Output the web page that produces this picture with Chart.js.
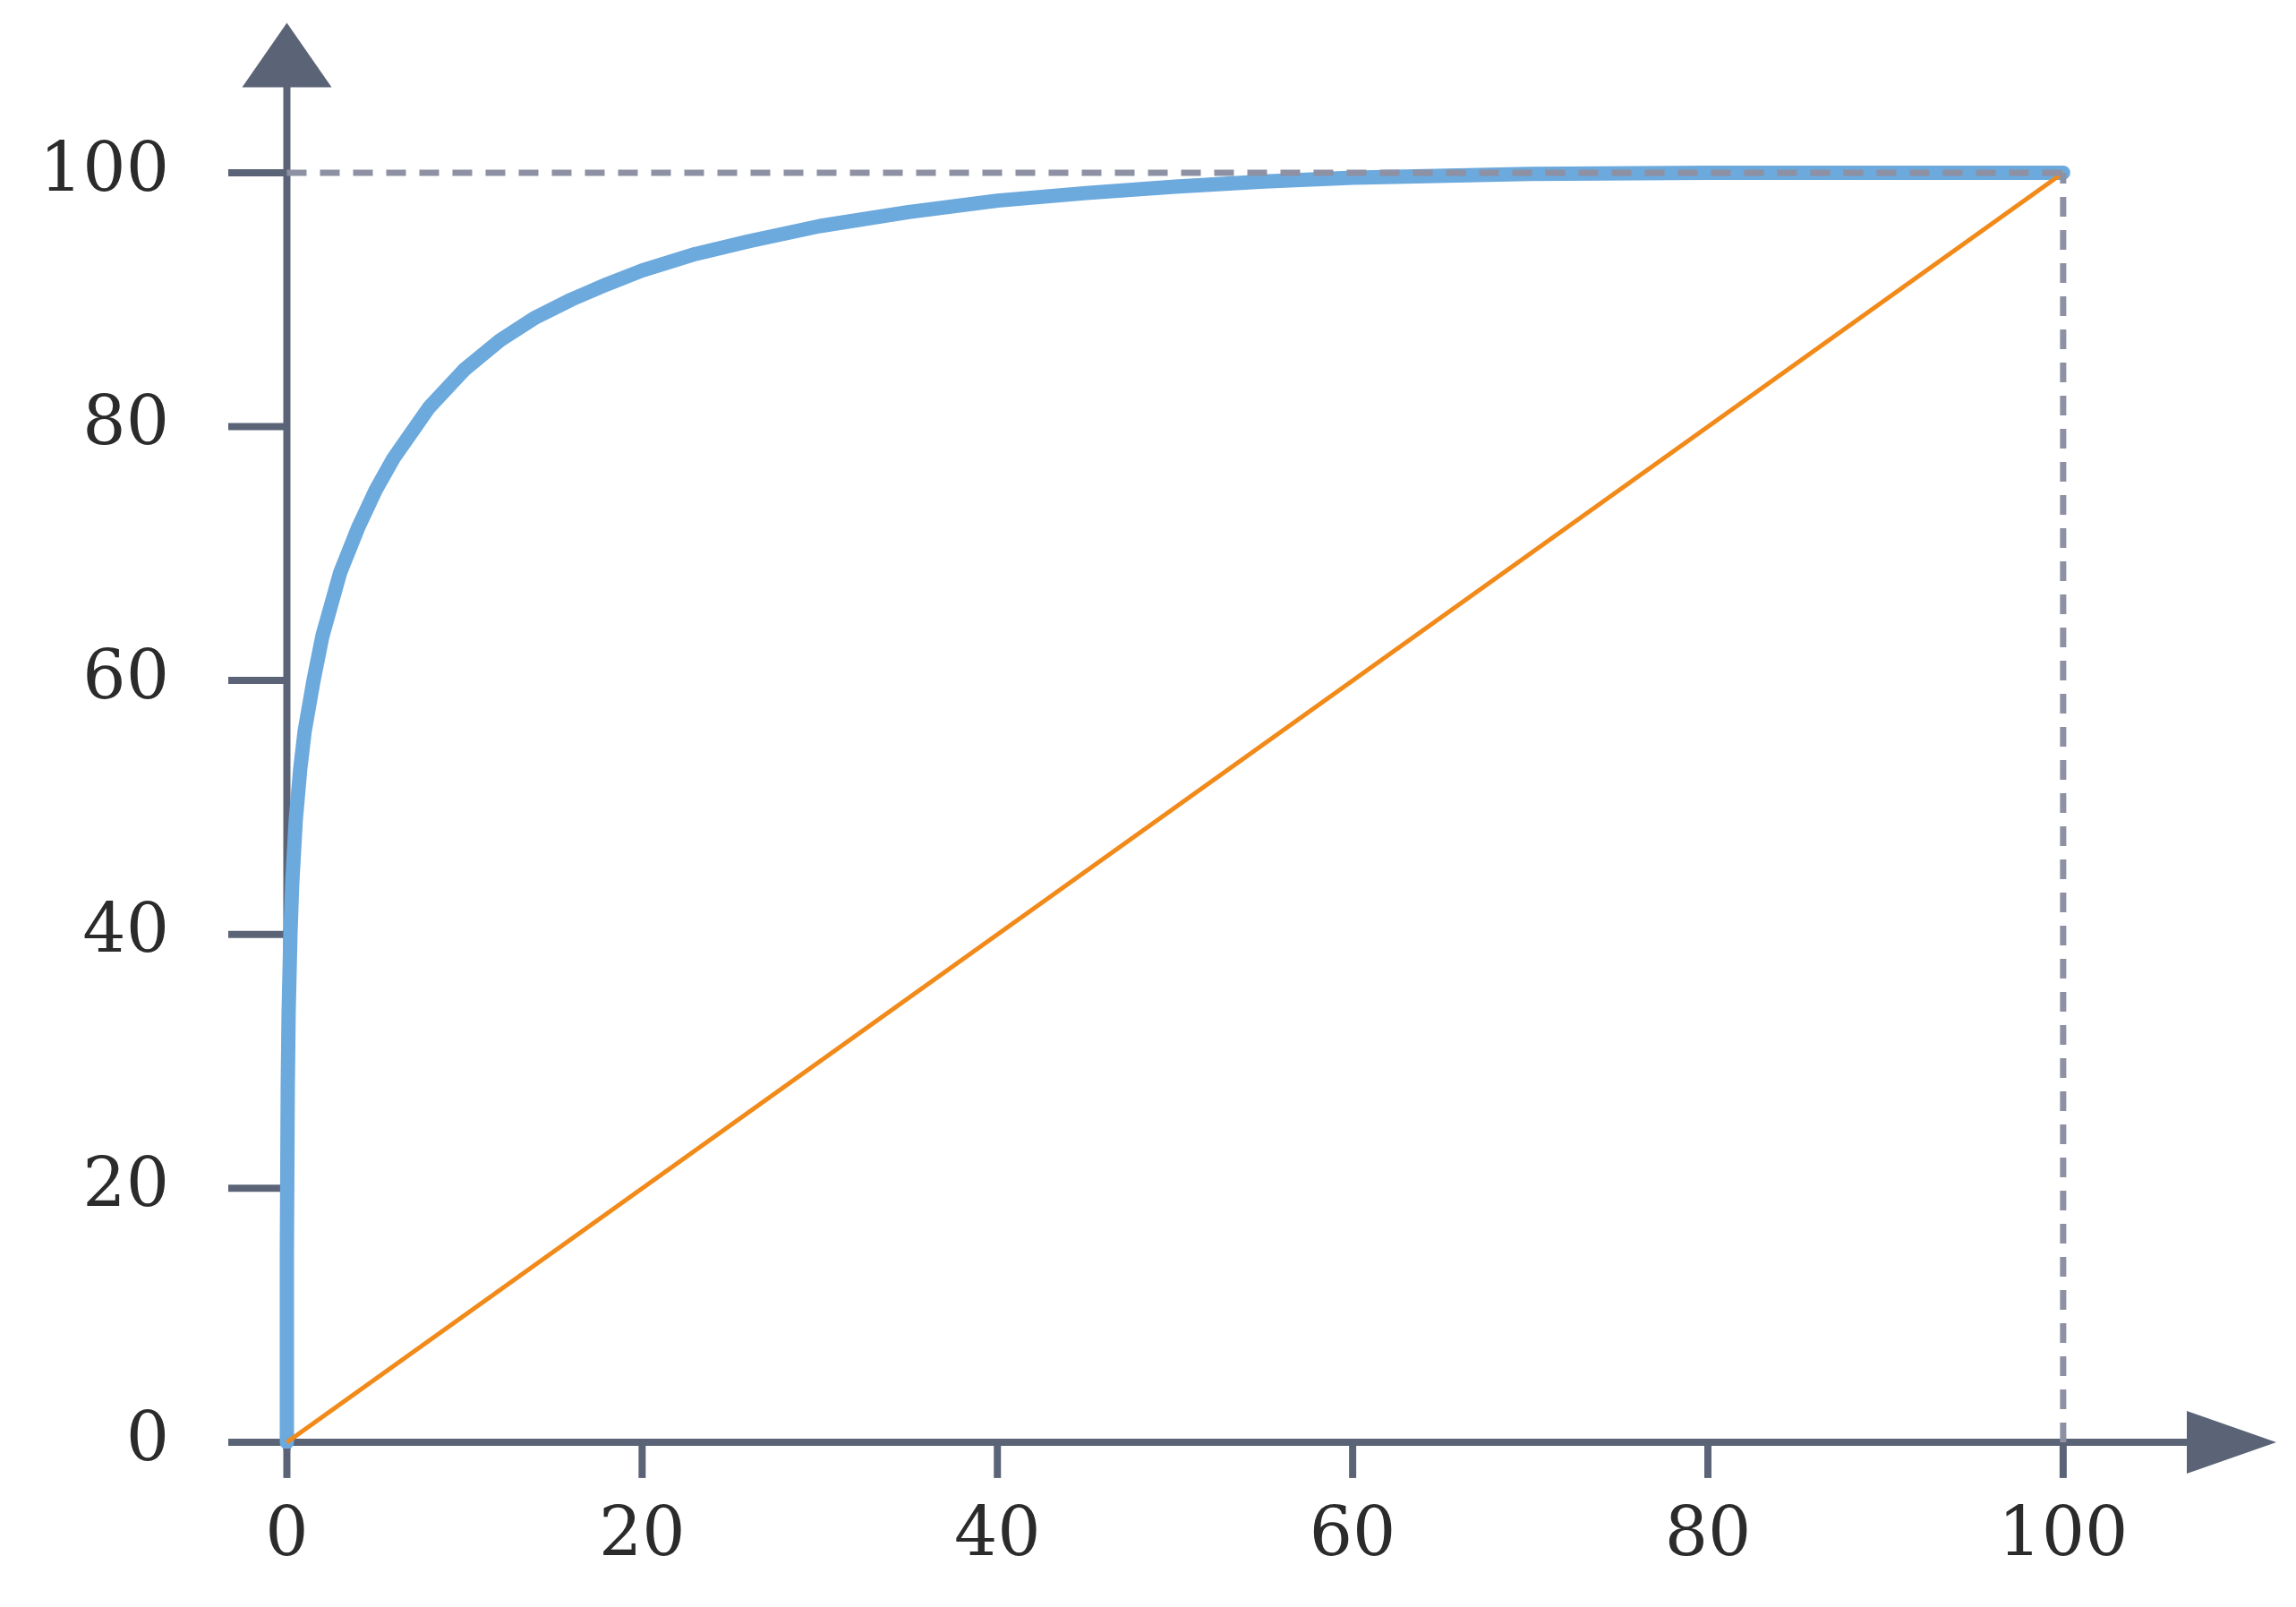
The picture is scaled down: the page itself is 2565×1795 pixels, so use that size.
<!DOCTYPE html>
<html><head><meta charset="utf-8">
<script src="https://cdn.jsdelivr.net/npm/chart.js@4"></script>
<style>html,body{margin:0;background:#fff}#w{width:2565px;height:1795px}</style>
</head><body><div id="w"><canvas id="c"></canvas></div>
<script>
const tickValues=[0,20,40,60,80,100];
const curveX=[0,0,0.05,0.1,0.2,0.3,0.5,0.75,1,1.5,2,2.5,3,4,5,6,7,8,9,10,12,14,16,18,20,23,26,30,35,40,45,50,55,60,70,80,90,100];
const curveY=[0,15,28,34,40,44,49,53,56,60,63.5,66,68.5,72,75,77.5,79.5,81.5,83,84.5,86.8,88.6,90,91.2,92.3,93.6,94.6,95.8,96.9,97.8,98.4,98.9,99.3,99.6,99.9,100,100,100];
const diagX=[0,100];
const diagY=[0,100];
const refHX=[0,100], refHY=[100,100];
const refVX=[100,100], refVY=[0,100];
const pts=(xs,ys)=>xs.map((x,i)=>({x,y:ys[i]}));
const AX='#5b6477';
const axesPlugin={id:'axes',beforeDatasetsDraw(ch){
 const c=ch.ctx,x=ch.scales.x,y=ch.scales.y;
 const x0=x.getPixelForValue(0),y0=y.getPixelForValue(0);
 c.save();c.strokeStyle=AX;c.fillStyle=AX;c.lineWidth=8;
 c.beginPath();c.moveTo(x.getPixelForValue(-3.3),y0);c.lineTo(x.getPixelForValue(107.5),y0);c.stroke();
 c.beginPath();c.moveTo(x0,y.getPixelForValue(-0.6));c.lineTo(x0,y.getPixelForValue(107.5));c.stroke();
 tickValues.forEach(v=>{const px=x.getPixelForValue(v);c.beginPath();c.moveTo(px,y0);c.lineTo(px,y0+40);c.stroke();
  if(v>0){const py=y.getPixelForValue(v);c.beginPath();c.moveTo(x.getPixelForValue(-3.3),py);c.lineTo(x0,py);c.stroke();}});
 const tx=x.getPixelForValue(112);
 c.beginPath();c.moveTo(tx,y0);c.lineTo(tx-100,y0-35);c.lineTo(tx-100,y0+35);c.closePath();c.fill();
 const ty=y.getPixelForValue(111.8);
 c.beginPath();c.moveTo(x0,ty);c.lineTo(x0-50,ty+72);c.lineTo(x0+50,ty+72);c.closePath();c.fill();
 c.restore();}};
new Chart(document.getElementById('c'),{type:'scatter',
 data:{datasets:[
  {data:pts(refHX,refHY),showLine:true,borderColor:'#8d91a3',borderWidth:7,borderDash:[22,15],pointRadius:0},
  {data:pts(refVX,refVY),showLine:true,borderColor:'#8d91a3',borderWidth:7,borderDash:[22,15],pointRadius:0},
  {data:pts(diagX,diagY),showLine:true,borderColor:'#f28a1a',borderWidth:5,pointRadius:0},
  {data:pts(curveX,curveY),showLine:true,borderColor:'#6ca9dd',borderWidth:16,pointRadius:0,tension:0,borderJoinStyle:'round',borderCapStyle:'round'}
 ]},
 options:{responsive:true,maintainAspectRatio:false,animation:false,
  layout:{padding:{top:25,right:22,left:0,bottom:0}},
  plugins:{legend:{display:false},tooltip:{enabled:false}},
  scales:{
   x:{type:'linear',min:-3.3,max:112,border:{display:false},grid:{display:false},
     afterBuildTicks:s=>{s.ticks=tickValues.map(v=>({value:v}))},
     afterFit:s=>{s.height=177},
     ticks:{padding:46,color:'#2b2b2b',maxRotation:0,autoSkip:false,font:{family:'DejaVu Serif',size:76}}},
   y:{type:'linear',min:-0.5,max:106.3,border:{display:false},grid:{display:false},
     afterBuildTicks:s=>{s.ticks=tickValues.map(v=>({value:v}))},
     afterFit:s=>{s.width=255},
     ticks:{padding:58,color:'#2b2b2b',autoSkip:false,font:{family:'DejaVu Serif',size:76}}}
  }},
 plugins:[axesPlugin]});
</script></body></html>
